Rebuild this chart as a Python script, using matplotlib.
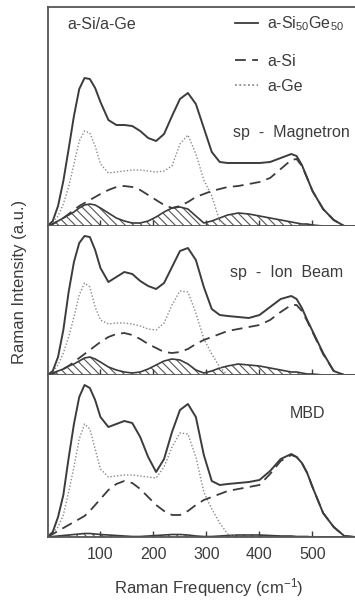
import matplotlib
matplotlib.use("Agg")
import matplotlib.pyplot as plt

plt.rcParams["font.family"] = ["Liberation Sans", "DejaVu Sans"]
plt.rcParams["mathtext.fontset"] = "custom"
plt.rcParams["mathtext.rm"] = "Liberation Sans"
plt.rcParams["mathtext.default"] = "regular"
plt.rcParams["hatch.linewidth"] = 0.8

# Raman frequency grid (cm-1), shared by all spectra
freq = [0, 10, 20, 30, 40, 50, 60, 70, 80, 90, 100, 115, 130, 145, 160, 175, 190, 205, 220, 235,
        250, 265, 280, 295, 310, 325, 340, 360, 380, 400, 420, 440, 460, 470, 480, 490, 500, 520, 540, 560, 580]

# sp - Magnetron
mag_alloy = [0, 5, 20, 45, 77, 110, 137, 148, 147, 138, 124, 106, 101, 101, 100, 95, 88, 85, 92, 110,
             127, 133, 122, 98, 74, 64, 63, 63, 63, 63, 64, 68, 72, 70, 61, 48, 35, 17, 6, 0, 0]
mag_si = [0, 2, 5, 8, 12, 16, 20, 23, 26, 29, 32, 36, 39, 40, 39, 36, 31, 26, 21, 18,
          20, 24, 29, 32, 35, 37, 39, 40, 42, 44, 48, 57, 66, 67, 60, 48, 35, 17, 6, 0, 0]
mag_ge = [0, 3, 10, 22, 39, 62, 85, 95, 93, 80, 62, 53, 54, 55, 56, 56, 55, 54, 55, 60,
          82, 91, 72, 46, 30, 5, 0, 0, 0, 0, 0, 0, 0, 0, 0, 0, 0, 0, 0, 0, 0]
mag_diff = [0, 2, 5, 8, 11, 14, 18, 21, 22, 21, 18, 13, 8, 5, 3, 3, 5, 9, 14, 18,
            19, 17, 10, 3, 5, 8, 11, 13, 12, 10, 8, 6, 4, 3, 2, 2, 1, 0, 0, 0, 0]

# sp - Ion Beam
ion_alloy = [0, 4, 18, 45, 83, 113, 132, 139, 138, 125, 107, 93, 98, 103, 101, 94, 89, 86, 92, 108,
             124, 127, 115, 88, 66, 60, 59, 58, 57, 60, 68, 76, 79, 76, 67, 55, 44, 22, 4, 0, 0]
ion_si = [0, 1, 4, 6, 9, 13, 17, 21, 25, 29, 33, 38, 41, 42, 40, 36, 31, 27, 23, 22,
          23, 26, 31, 35, 38, 41, 44, 46, 48, 50, 55, 63, 70, 70, 64, 54, 43, 21, 4, 0, 0]
ion_ge = [0, 3, 10, 22, 38, 58, 80, 92, 88, 68, 55, 51, 52, 52, 51, 49, 46, 45, 52, 70,
          84, 83, 62, 36, 21, 8, 0, 0, 0, 0, 0, 0, 0, 0, 0, 0, 0, 0, 0, 0, 0]
ion_diff = [0, 2, 4, 6, 9, 11, 14, 17, 18, 16, 13, 8, 5, 3, 2, 3, 6, 10, 14, 16,
            15, 11, 5, 2, 4, 7, 9, 11, 10, 9, 7, 5, 3, 3, 2, 1, 1, 0, 0, 0, 0]

# MBD
mbd_alloy = [0, 5, 20, 42, 79, 113, 140, 152, 149, 137, 120, 110, 113, 116, 114, 100, 80, 65, 78, 105,
             127, 133, 120, 82, 56, 52, 53, 54, 55, 57, 66, 78, 83, 80, 74, 64, 50, 24, 10, 1, 0]
mbd_si = [0, 3, 6, 9, 12, 15, 18, 21, 26, 32, 38, 47, 53, 56, 54, 48, 40, 32, 26, 22,
          22, 26, 32, 37, 40, 43, 46, 48, 50, 52, 63, 76, 82, 80, 74, 64, 50, 24, 10, 1, 0]
mbd_ge = [0, 4, 10, 22, 45, 70, 98, 113, 108, 88, 68, 60, 61, 62, 62, 61, 60, 59, 70, 90,
          104, 103, 80, 45, 28, 14, 3, 0, 0, 0, 0, 0, 0, 0, 0, 0, 0, 0, 0, 0, 0]
mbd_diff = [0, 0.5, 1, 1.5, 2, 2.5, 3, 3.5, 3.5, 3, 2.5, 2, 1.5, 1, 0.5, 0.5, 1, 1.5, 2, 2.5,
            2.5, 2, 1, 0.5, 0.5, 1, 1.5, 2, 2, 2, 1.5, 1, 1, 0.5, 0.5, 0.5, 0, 0, 0, 0, 0]

panel_names = ["sp  -  Magnetron", "sp  -  Ion  Beam", "MBD"]
tick_values = [100, 200, 300, 400, 500]

INK = "#3c3c3c"
FS = 11.5


def draw_panel(ax, alloy, si, ge, diff, ymax):
    ax.fill_between(freq, 0, diff, facecolor="none", edgecolor="#555555", hatch="\\\\\\\\", linewidth=0)
    ax.plot(freq, diff, color=INK, lw=1.2)
    ax.plot(freq, ge, color="#8a8a8a", lw=1.0, ls=(0, (1, 1.4)))
    ax.plot(freq, si, color=INK, lw=1.3, ls=(0, (6, 3.5)))
    ax.plot(freq, alloy, color=INK, lw=1.4)
    ax.set_xlim(2, 600)
    ax.set_ylim(0, ymax)
    ax.set_yticks([])
    ax.set_xticks(tick_values)
    ax.tick_params(axis="x", direction="in", length=4, width=1, color=INK, pad=7,
                   labelsize=FS, labelcolor=INK)
    for side in ["right", "top"]:
        ax.spines[side].set_visible(False)
    for side in ["left", "bottom"]:
        ax.spines[side].set_color("#555555")
        ax.spines[side].set_linewidth(1.3)


fig = plt.figure(figsize=(3.55, 6.0), dpi=100)
left, width = 0.1366, 0.893
# panel extents in pixels from the top: (top, bottom)
extents = [(7, 226), (226, 375), (375, 537)]
series = [(mag_alloy, mag_si, mag_ge, mag_diff),
          (ion_alloy, ion_si, ion_ge, ion_diff),
          (mbd_alloy, mbd_si, mbd_ge, mbd_diff)]
axes = []
for (top, bottom), data in zip(extents, series):
    ax = fig.add_axes([left, (600 - bottom) / 600, width, (bottom - top) / 600])
    draw_panel(ax, *data, bottom - top)
    axes.append(ax)

axes[0].spines["top"].set_visible(True)
axes[0].spines["top"].set_color("#555555")
axes[0].spines["top"].set_linewidth(1.3)
axes[0].tick_params(labelbottom=False)
axes[1].tick_params(labelbottom=False)

# legend, drawn by hand as in the original
ax = axes[0]
ax.text(0.058, 0.918, "a-Si/a-Ge", transform=ax.transAxes, fontsize=FS, color=INK, va="center")
keys = [("a-Si$_{50}$Ge$_{50}$", "-", INK, 0.928),
        ("a-Si", (0, (6, 3.5)), INK, 0.758),
        ("a-Ge", (0, (1, 1.4)), "#8a8a8a", 0.644)]
for label, style, col, y in keys:
    ax.plot([0.589, 0.661], [y, y], transform=ax.transAxes, color=col, ls=style, lw=1.3)
    ax.text(0.689, y - 0.005, label, transform=ax.transAxes, fontsize=FS, color=INK, va="center")

axes[0].text(0.582, 0.425, panel_names[0], transform=axes[0].transAxes, fontsize=FS, color=INK, va="center")
axes[1].text(0.572, 0.691, panel_names[1], transform=axes[1].transAxes, fontsize=FS, color=INK, va="center")
axes[2].text(0.762, 0.765, panel_names[2], transform=axes[2].transAxes, fontsize=FS, color=INK, va="center")

fig.text(0.056, 0.53, "Raman Intensity (a.u.)", rotation=90, ha="center", va="center",
         fontsize=FS + 0.5, color=INK)
fig.text(0.589, 0.02, "Raman Frequency (cm$^{-1}$)", ha="center", va="center",
         fontsize=FS + 0.5, color=INK)

fig.savefig("out.png", dpi=100)
